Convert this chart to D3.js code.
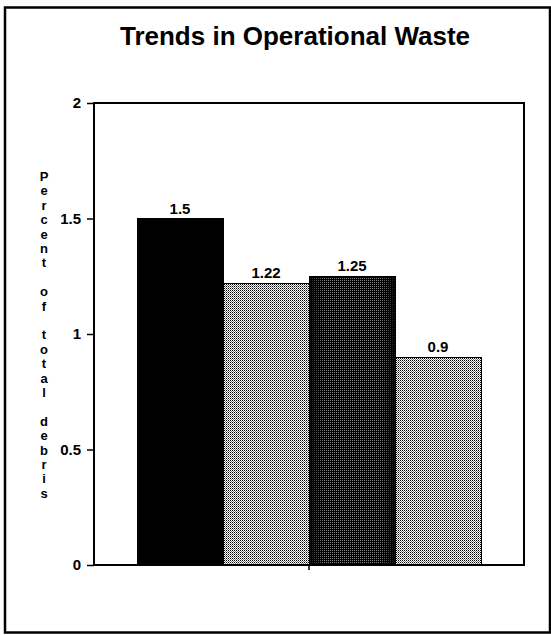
<!DOCTYPE html>
<html>
<head>
<meta charset="utf-8">
<script src="https://cdn.jsdelivr.net/npm/d3@7/dist/d3.min.js"></script>
<style>
  html, body { margin: 0; padding: 0; background: #fff; }
  svg { display: block; }
  text { font-family: "Liberation Sans", Arial, sans-serif; font-weight: bold; fill: #000; }
</style>
</head>
<body>
<svg id="chart" width="551" height="635"></svg>
<script>
// ---- data ----
const categories = ["A", "B", "C", "D"];
const values = [1.5, 1.22, 1.25, 0.9];
const valueLabels = ["1.5", "1.22", "1.25", "0.9"];
const fills = ["solid", "light", "dark", "light"];
const yTicks = [0, 0.5, 1, 1.5, 2];
const yTickLabels = ["0", "0.5", "1", "1.5", "2"];
const title = "Trends in Operational Waste";
const yTitle = "Percent of total debris";

const svg = d3.select("#chart");
const m = { left: 94, right: 524, top: 103, bottom: 565 };

// patterns
const defs = svg.append("defs");
const pl = defs.append("pattern").attr("id", "light").attr("width", 2).attr("height", 2)
  .attr("patternUnits", "userSpaceOnUse");
pl.append("rect").attr("width", 2).attr("height", 2).attr("fill", "#fff");
pl.append("rect").attr("x", 0).attr("y", 0).attr("width", 1).attr("height", 1).attr("fill", "#000");
pl.append("rect").attr("x", 1).attr("y", 1).attr("width", 1).attr("height", 1).attr("fill", "#777");
const pd = defs.append("pattern").attr("id", "dark").attr("width", 2).attr("height", 2)
  .attr("patternUnits", "userSpaceOnUse");
pd.append("rect").attr("width", 2).attr("height", 2).attr("fill", "#000");
pd.append("rect").attr("x", 0).attr("y", 0).attr("width", 1).attr("height", 1).attr("fill", "#aaa");
// darker edges for the dark bar
const eg = defs.append("linearGradient").attr("id", "edge").attr("x1", 0).attr("x2", 1);
eg.append("stop").attr("offset", "0").attr("stop-color", "#000").attr("stop-opacity", 0.9);
eg.append("stop").attr("offset", "0.18").attr("stop-color", "#000").attr("stop-opacity", 0.2);
eg.append("stop").attr("offset", "0.82").attr("stop-color", "#000").attr("stop-opacity", 0.2);
eg.append("stop").attr("offset", "1").attr("stop-color", "#000").attr("stop-opacity", 0.9);

// outer border
svg.append("rect").attr("x", 5).attr("y", 7.5).attr("width", 545).attr("height", 625)
  .attr("fill", "none").attr("stroke", "#000").attr("stroke-width", 2.5);

// title
svg.append("text").attr("x", 295).attr("y", 45).attr("text-anchor", "middle")
  .style("font-size", "26px").text(title);

// scales
const x = d3.scaleBand().domain(categories).range([m.left, m.right]).paddingInner(0).paddingOuter(0.5);
const y = d3.scaleLinear().domain([0, 2]).range([m.bottom, m.top]);

// bars
const gb = svg.append("g");
gb.selectAll("rect.bar").data(categories).join("rect").attr("class", "bar")
  .attr("x", d => x(d))
  .attr("y", (d, i) => y(values[i]))
  .attr("width", x.bandwidth())
  .attr("height", (d, i) => y(0) - y(values[i]))
  .attr("fill", (d, i) => fills[i] === "solid" ? "#000" : `url(#${fills[i]})`)
  .attr("stroke", "#000").attr("stroke-width", 1)
  .attr("shape-rendering", "crispEdges");
gb.selectAll("rect.shade").data(categories.filter((d, i) => fills[i] === "dark")).join("rect")
  .attr("class", "shade")
  .attr("x", d => x(d))
  .attr("y", d => y(values[categories.indexOf(d)]))
  .attr("width", x.bandwidth())
  .attr("height", d => y(0) - y(values[categories.indexOf(d)]))
  .attr("fill", "url(#edge)");

// value labels
svg.append("g").selectAll("text").data(categories).join("text")
  .attr("x", d => x(d) + x.bandwidth() / 2)
  .attr("y", (d, i) => y(values[i]) - 5)
  .attr("text-anchor", "middle")
  .style("font-size", "15px")
  .text((d, i) => valueLabels[i]);

// plot frame
svg.append("rect").attr("x", m.left).attr("y", m.top)
  .attr("width", m.right - m.left).attr("height", m.bottom - m.top)
  .attr("fill", "none").attr("stroke", "#000").attr("stroke-width", 2);

// y axis
const yAxis = d3.axisLeft(y).tickValues(yTicks).tickSize(7).tickPadding(6)
  .tickFormat((d, i) => yTickLabels[i]);
const gy = svg.append("g").attr("transform", `translate(${m.left},0)`).call(yAxis);
gy.select(".domain").remove();
gy.selectAll("line").attr("stroke", "#000").attr("stroke-width", 1.5);
gy.selectAll("text").style("font-size", "15px").attr("font-family", null);

// bottom center tick
svg.append("line").attr("x1", x("C")).attr("x2", x("C"))
  .attr("y1", m.bottom).attr("y2", m.bottom + 5)
  .attr("stroke", "#000").attr("stroke-width", 1.5);

// y title stacked vertically
const yt = svg.append("text").attr("text-anchor", "middle").style("font-size", "13px");
const chars = yTitle.split("");
const startY = 181, stepY = 14.4;
chars.forEach((c, i) => {
  if (c === " ") return;
  yt.append("tspan").attr("x", 44).attr("y", startY + i * stepY).text(c);
});
</script>
</body>
</html>
